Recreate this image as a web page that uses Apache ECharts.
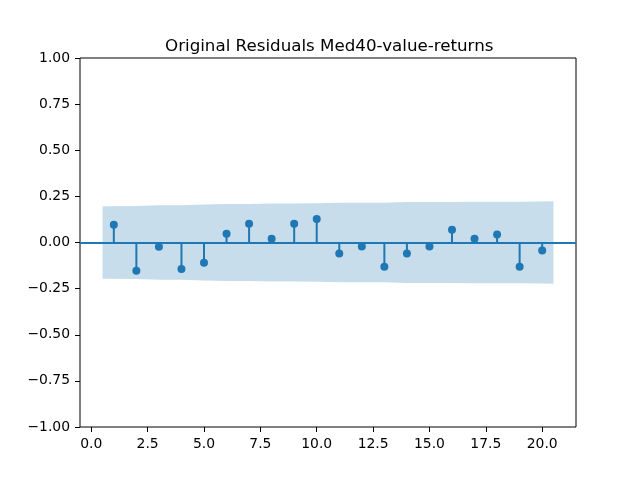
<!DOCTYPE html>
<html>
<head>
<meta charset="utf-8">
<script src="https://cdn.jsdelivr.net/npm/echarts@6/dist/echarts.min.js"></script>
<style>
  html, body { margin: 0; padding: 0; background: #fff; }
  #chart { width: 640px; height: 480px; }
</style>
</head>
<body>
<div id="chart"></div>
<script>
// autocorrelation, lags 1..20
var lags = [1, 2, 3, 4, 5, 6, 7, 8, 9, 10, 11, 12, 13, 14, 15, 16, 17, 18, 19, 20];
var acf = [0.096, -0.153, -0.023, -0.143, -0.110, 0.047, 0.101, 0.020, 0.101, 0.128,
           -0.060, -0.022, -0.132, -0.060, -0.022, 0.069, 0.020, 0.043, -0.132, -0.043];
// confidence band half-width at each lag (ends stretched by half a lag)
var bandX = [0.5, 2, 3, 4, 5, 6, 7, 8, 9, 10, 11, 12, 13, 14, 15, 16, 17, 18, 19, 20.5];
var bandHalf = [0.196, 0.198, 0.202, 0.202, 0.206, 0.209, 0.209, 0.211, 0.211, 0.213,
                0.216, 0.216, 0.216, 0.219, 0.220, 0.220, 0.221, 0.221, 0.221, 0.224];
var xTicks = [0, 2.5, 5, 7.5, 10, 12.5, 15, 17.5, 20];

var C0 = '#1f77b4';
var font = 'DejaVu Sans';

var chart = echarts.init(document.getElementById('chart'));

var bandData = bandX.map(function (x, i) { return [x, bandHalf[i], -bandHalf[i]]; });
var stemData = lags.map(function (x, i) { return [x, acf[i]]; });

function fmt(v, d) {
    // matplotlib uses a real minus sign
    return v.toFixed(d).replace('-', '\u2212');
}

var option = {
    animation: false,
    backgroundColor: '#fff',
    title: {
        text: 'Original Residuals Med40-value-returns',
        left: 160,
        top: 33,
        textStyle: { fontFamily: font, fontSize: 16.7, fontWeight: 'normal', color: '#000' }
    },
    grid: {
        left: 80, right: 64, top: 58, bottom: 53,
        show: true, borderColor: '#000', borderWidth: 1, backgroundColor: 'transparent'
    },
    xAxis: {
        type: 'value',
        min: -0.5, max: 21.5,
        splitLine: { show: false },
        axisLine: { show: false, onZero: false },
        axisTick: { show: true, customValues: xTicks, length: 5, inside: false, lineStyle: { color: '#000' } },
        axisLabel: {
            customValues: xTicks, color: '#000', fontFamily: font, fontSize: 13.9, margin: 10,
            formatter: function (v) { return fmt(v, 1); }
        }
    },
    yAxis: {
        type: 'value',
        min: -1, max: 1, interval: 0.25,
        splitLine: { show: false },
        axisLine: { show: false, onZero: false },
        axisTick: { show: true, length: 5, lineStyle: { color: '#000' } },
        axisLabel: {
            color: '#000', fontFamily: font, fontSize: 13.9, margin: 10,
            formatter: function (v) { return fmt(v, 2); }
        }
    },
    series: [
        {
            type: 'custom',
            data: bandData,
            z: 1,
            silent: true,
            renderItem: function (params, api) {
                if (params.dataIndex !== 0) return null;
                var pts = [];
                bandData.forEach(function (d) { pts.push(api.coord([d[0], d[1]])); });
                for (var i = bandData.length - 1; i >= 0; i--) {
                    pts.push(api.coord([bandData[i][0], bandData[i][2]]));
                }
                return {
                    type: 'polygon',
                    shape: { points: pts },
                    style: { fill: 'rgba(31,119,180,0.25)', stroke: 'none' }
                };
            }
        },
        {
            type: 'custom',
            data: stemData,
            z: 2,
            renderItem: function (params, api) {
                var top = api.coord([api.value(0), api.value(1)]);
                var base = api.coord([api.value(0), 0]);
                return {
                    type: 'line',
                    shape: { x1: base[0], y1: base[1], x2: top[0], y2: top[1] },
                    style: { stroke: C0, lineWidth: 2 }
                };
            },
            markLine: {
                silent: true,
                symbol: 'none',
                label: { show: false },
                lineStyle: { color: C0, width: 2, type: 'solid' },
                data: [{ yAxis: 0 }]
            }
        },
        {
            type: 'scatter',
            data: stemData,
            z: 3,
            symbol: 'circle',
            symbolSize: 8,
            itemStyle: { color: C0, opacity: 1 }
        }
    ]
};
chart.setOption(option);
</script>
</body>
</html>
